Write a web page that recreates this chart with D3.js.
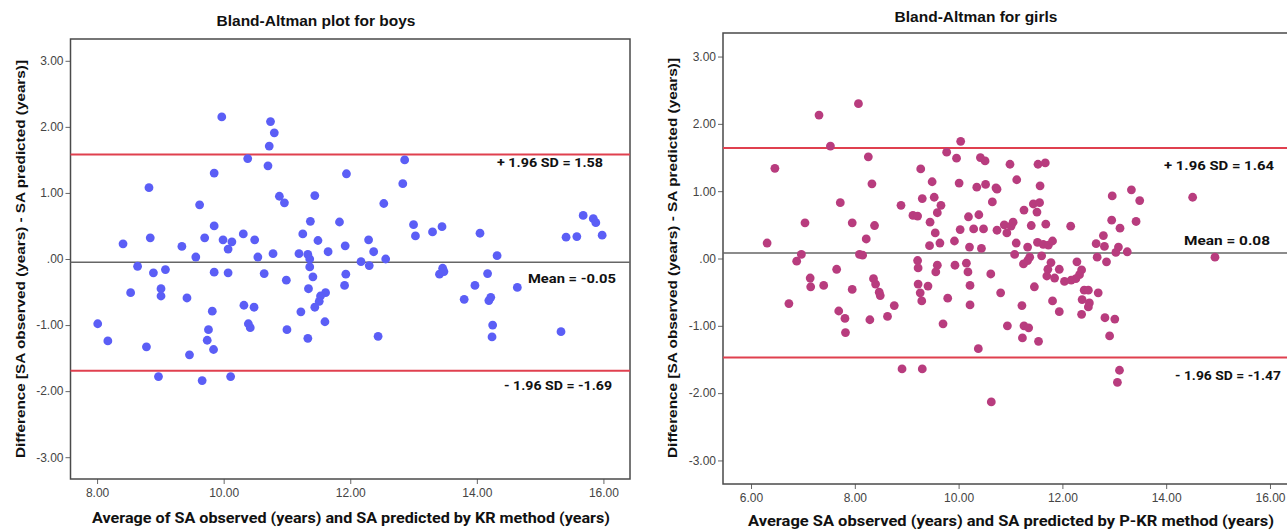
<!DOCTYPE html>
<html>
<head>
<meta charset="utf-8">
<script src="https://cdn.jsdelivr.net/npm/d3@7"></script>
<style>
  body { margin: 0; background: #fff; }
  text { font-family: "Liberation Sans", Arial, sans-serif; }
</style>
</head>
<body>
<svg id="chart" width="1287" height="530"></svg>
<script>
// boys: average of observed & predicted SA, and their difference
var boysAvg = [8.82,9.62,8.41,8.84,9.34,9.70,9.56,8.64,8.89,9.08,8.53,9.01,9.01,9.42,8.01,8.17,8.78,9.76,9.74,9.46,8.97,9.66,
  9.85,9.85,9.85,9.82,9.84,9.97,10.74,10.80,10.72,10.38,10.70,11.94,10.88,10.96,11.44,11.37,11.83,10.31,11.25,9.99,10.13,10.49,
  10.07,11.49,11.92,11.65,10.54,10.78,11.19,11.33,11.36,10.07,10.64,10.99,11.36,11.41,11.93,11.91,11.34,11.61,11.53,11.51,11.44,
  10.32,10.48,11.22,11.60,10.39,10.42,11.00,11.33,10.11,12.86,12.83,12.53,13.00,13.03,13.30,13.45,14.05,12.29,12.37,12.56,12.17,
  12.30,13.46,13.41,13.48,14.17,13.97,13.80,14.19,14.22,14.25,14.24,12.44,14.32,15.68,15.84,15.88,15.41,15.58,15.98,14.64,15.33];
var boysDiff = [1.08,0.82,0.23,0.32,0.19,0.32,0.03,-0.11,-0.21,-0.16,-0.51,-0.45,-0.56,-0.59,-0.98,-1.24,-1.33,-1.07,-1.23,-1.45,-1.78,-1.84,
  1.30,0.50,-0.20,-0.79,-1.37,2.15,2.08,1.91,1.71,1.52,1.41,1.29,0.95,0.85,0.96,0.57,0.56,0.38,0.38,0.29,0.26,0.29,
  0.15,0.28,0.20,0.11,0.03,0.08,0.08,0.07,0.00,-0.21,-0.22,-0.32,-0.12,-0.27,-0.23,-0.40,-0.45,-0.51,-0.56,-0.64,-0.73,
  -0.70,-0.73,-0.80,-0.95,-0.98,-1.04,-1.07,-1.20,-1.78,1.50,1.14,0.84,0.52,0.35,0.41,0.49,0.39,0.29,0.11,0.00,-0.04,
  -0.10,-0.14,-0.23,-0.19,-0.22,-0.40,-0.61,-0.63,-0.58,-1.00,-1.18,-1.17,0.05,0.66,0.61,0.55,0.33,0.34,0.36,-0.43,-1.10];

// girls
var girlsAvg = [7.31,7.53,6.46,7.72,7.04,7.95,6.31,6.97,6.88,7.65,7.14,7.15,7.40,7.95,6.73,7.69,7.81,7.82,
  8.07,10.04,9.77,9.96,8.26,9.27,9.49,10.01,8.33,9.30,9.53,9.66,8.89,9.59,9.12,9.21,9.45,10.19,8.38,10.03,9.55,8.22,
  9.64,9.44,9.92,10.21,8.09,8.15,9.21,9.22,9.59,9.56,9.93,10.15,10.18,8.36,8.40,8.47,8.49,9.22,9.41,9.26,9.29,9.79,
  10.22,10.22,8.76,8.63,8.29,9.70,8.91,9.30,
  10.42,10.51,10.99,11.53,11.67,11.12,10.35,10.52,10.72,10.74,11.57,10.65,11.44,11.56,11.26,11.51,10.39,10.29,10.48,
  10.74,10.88,10.93,11.01,11.05,11.40,11.68,12.16,10.44,11.11,11.33,11.52,11.63,11.73,11.81,11.08,11.60,11.37,11.33,
  11.25,11.78,11.72,11.70,11.85,11.94,12.28,12.37,12.33,12.26,12.17,12.04,10.62,10.81,11.46,12.42,12.50,12.38,12.52,
  12.50,11.81,11.94,12.37,11.22,10.94,11.26,11.35,11.23,11.54,10.38,10.63,
  13.33,12.96,13.49,14.51,12.95,13.11,13.42,12.79,12.65,12.81,13.08,13.03,13.25,12.67,12.85,14.94,12.69,12.82,13.01,
  12.91,13.10,13.06];
var girlsDiff = [2.13,1.67,1.34,0.83,0.53,0.53,0.23,0.06,-0.04,-0.16,-0.29,-0.42,-0.40,-0.46,-0.67,-0.78,-0.89,-1.10,
  2.30,1.74,1.58,1.49,1.51,1.33,1.14,1.12,1.11,0.89,0.91,0.79,0.79,0.68,0.64,0.63,0.54,0.62,0.49,0.43,0.38,0.29,
  0.23,0.19,0.26,0.17,0.06,0.05,-0.03,-0.14,-0.10,-0.20,-0.10,-0.07,-0.20,-0.30,-0.38,-0.50,-0.55,-0.38,-0.41,-0.51,-0.63,-0.59,
  -0.40,-0.69,-0.70,-0.86,-0.91,-0.97,-1.64,-1.64,
  1.50,1.45,1.40,1.40,1.42,1.17,1.06,1.10,1.05,1.03,1.08,0.84,0.81,0.83,0.72,0.69,0.65,0.44,0.44,
  0.42,0.50,0.38,0.48,0.54,0.49,0.51,0.48,0.15,0.23,0.17,0.24,0.21,0.20,0.26,0.06,0.04,0.02,-0.03,
  -0.08,-0.06,-0.16,-0.26,-0.29,-0.16,-0.05,-0.17,-0.24,-0.30,-0.32,-0.34,-0.23,-0.51,-0.42,-0.47,-0.47,-0.61,-0.66,
  -0.72,-0.63,-0.79,-0.83,-0.70,-1.00,-1.00,-1.03,-1.18,-1.23,-1.34,-2.13,
  1.02,0.93,0.86,0.91,0.57,0.45,0.55,0.34,0.22,0.18,0.17,0.09,0.10,0.02,-0.05,0.02,-0.51,-0.88,-0.90,
  -1.15,-1.66,-1.84];

// mean and limits of agreement
var boysLines = [1.58, -0.05, -1.69];
var girlsLines = [1.64, 0.08, -1.47];
var lineLabels = ["+ 1.96 SD = ", "Mean = ", "- 1.96 SD = "];

var yTicks = [-3, -2, -1, 0, 1, 2, 3];
var boysXTicks = [8, 10, 12, 14, 16];
var girlsXTicks = [6, 8, 10, 12, 14, 16];

var svg = d3.select("#chart");
var fix2 = function(d) { return d3.format(".2f")(d).replace("\u2212", "-"); };
var fmt = function(d) { return fix2(d).replace(/^(-?)0\./, "$1."); };

var panels = [
  { title: "Bland-Altman plot for boys", titleX: 316, titleY: 21,
    xLabel: "Average of SA observed (years) and SA predicted by KR method (years)", xLabelX: 351, xLabelY: 518, xLabelW: 518,
    yLabelX: 20, yLabelY: 259, yLabelW: 398,
    left: 70.5, right: 630, top: 39, bottom: 479,
    xDom: [7.58, 16.42], yDom: [-3.33, 3.33], xTicks: boysXTicks,
    avg: boysAvg, diff: boysDiff, lines: boysLines, color: "#5b5ef6",
    labels: [{x: 497, y: 162, w: 106}, {x: 528, y: 278, w: 88}, {x: 504, y: 385, w: 108}] },
  { title: "Bland-Altman for girls", titleX: 976, titleY: 17,
    xLabel: "Average SA observed (years) and SA predicted by P-KR method (years)", xLabelX: 1011, xLabelY: 521, xLabelW: 526,
    yLabelX: 672, yLabelY: 258, yLabelW: 400,
    left: 723, right: 1298, top: 33, bottom: 484,
    xDom: [5.46, 16.54], yDom: [-3.35, 3.35], xTicks: girlsXTicks,
    avg: girlsAvg, diff: girlsDiff, lines: girlsLines, color: "#b83c7e",
    labels: [{x: 1164, y: 165, w: 110}, {x: 1184, y: 240, w: 86}, {x: 1175, y: 375, w: 106}] }
];

panels.forEach(function(p) {
  var x = d3.scaleLinear().domain(p.xDom).range([p.left, p.right]);
  var y = d3.scaleLinear().domain(p.yDom).range([p.bottom, p.top]);
  var g = svg.append("g");

  // title
  g.append("text").attr("x", p.titleX).attr("y", p.titleY).attr("dy", "0.35em")
    .attr("text-anchor", "middle").style("font-size", "15.5px").style("font-weight", "bold")
    .style("fill", "#111").text(p.title);

  // axes
  var xAxis = g.append("g").attr("transform", "translate(0," + p.bottom + ")")
    .call(d3.axisBottom(x).tickValues(p.xTicks).tickFormat(fmt).tickSize(5).tickPadding(4));
  var yAxis = g.append("g").attr("transform", "translate(" + p.left + ",0)")
    .call(d3.axisLeft(y).tickValues(yTicks).tickFormat(fmt).tickSize(5).tickPadding(2));
  [xAxis, yAxis].forEach(function(a) {
    a.select(".domain").remove();
    a.selectAll(".tick line").attr("stroke", "#666");
    a.selectAll(".tick text").style("font-size", "12px").style("fill", "#444")
      .style("font-family", "'Liberation Sans Narrow', 'Liberation Sans', Arial, sans-serif");
  });

  // frame
  g.append("rect").attr("x", p.left).attr("y", p.top)
    .attr("width", p.right - p.left).attr("height", p.bottom - p.top)
    .attr("fill", "none").attr("stroke", "#4a4a4a").attr("stroke-width", 1.5);

  // reference lines
  p.lines.forEach(function(v, i) {
    g.append("line").attr("x1", p.left).attr("x2", p.right).attr("y1", y(v)).attr("y2", y(v))
      .attr("stroke", i === 1 ? "#666" : "#e0404f").attr("stroke-width", i === 1 ? 1.5 : 2);
  });

  // points
  g.selectAll("circle").data(p.avg).enter().append("circle")
    .attr("cx", function(d) { return x(d); })
    .attr("cy", function(d, i) { return y(p.diff[i]); })
    .attr("r", 4.4).attr("fill", p.color);

  // line labels
  p.lines.forEach(function(v, i) {
    var l = p.labels[i];
    g.append("text").attr("x", l.x).attr("y", l.y).attr("dy", "0.35em")
      .attr("textLength", l.w).attr("lengthAdjust", "spacingAndGlyphs")
      .style("font-family", "Roboto, 'Open Sans', sans-serif")
      .style("font-size", "13.5px").style("font-weight", "bold").style("fill", "#111")
      .text(lineLabels[i] + fix2(v));
  });

  // axis titles
  g.append("text").attr("x", p.xLabelX).attr("y", p.xLabelY).attr("dy", "0.35em")
    .attr("text-anchor", "middle").attr("textLength", p.xLabelW).attr("lengthAdjust", "spacingAndGlyphs")
    .style("font-family", "Roboto, 'Open Sans', sans-serif")
    .style("font-size", "15px").style("font-weight", "bold").style("fill", "#111").text(p.xLabel);
  g.append("text").attr("transform", "translate(" + p.yLabelX + "," + p.yLabelY + ") rotate(-90)")
    .attr("dy", "0.35em").attr("text-anchor", "middle")
    .attr("textLength", p.yLabelW).attr("lengthAdjust", "spacingAndGlyphs")
    .style("font-size", "13px").style("font-weight", "bold").style("fill", "#111")
    .text("Difference [SA observed (years) - SA predicted (years)]");
});
</script>
</body>
</html>
